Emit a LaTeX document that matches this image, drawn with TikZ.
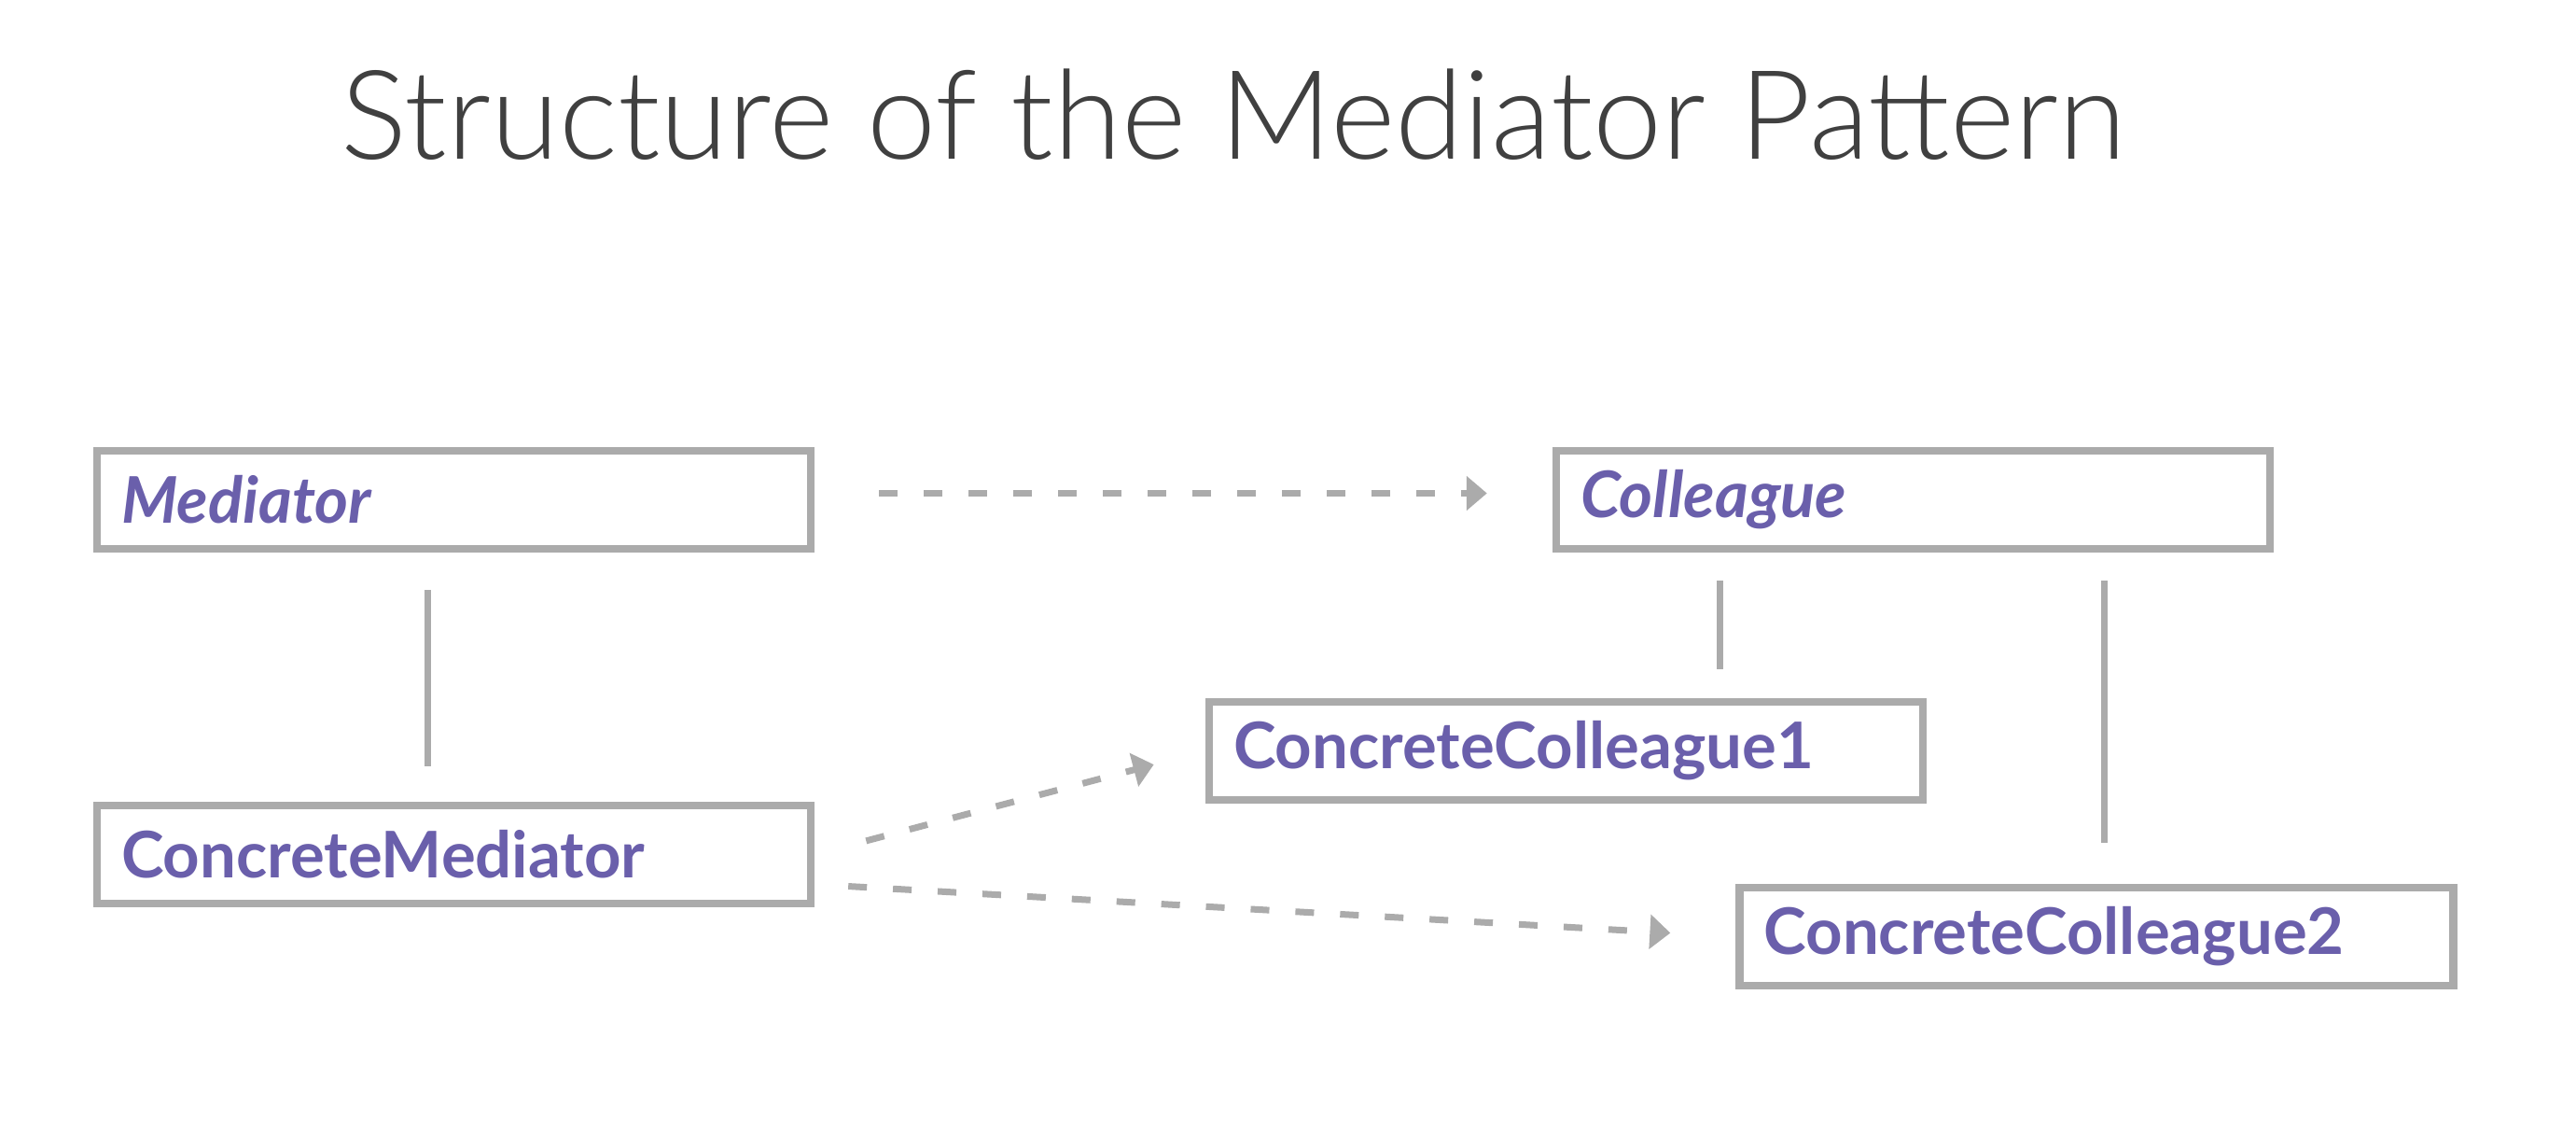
\documentclass[tikz,border=0pt]{standalone}
\usepackage{fontspec}
\setmainfont{Lato}
\newfontfamily\titlefont{Lato Light}
\usetikzlibrary{arrows.meta}
\definecolor{klasespalva}{HTML}{6A5FAB}
\definecolor{linijospalva}{HTML}{ABABAB}
\definecolor{antrastespalva}{HTML}{404040}
\tikzset{
  klase/.style={draw=linijospalva, line width=0.085cm,
    text width=7.13cm, inner xsep=0.26cm, minimum height=1.05cm,
    align=left, text=klasespalva,
    font=\fontsize{19.6}{24}\selectfont\bfseries},
  abstrakti/.style={klase, font=\fontsize{19.6}{24}\selectfont\bfseries\itshape},
  paveldejimas/.style={draw=linijospalva, line width=0.07cm},
  priklausomybe/.style={draw=linijospalva, line width=0.07cm,
    dash pattern=on 0.2cm off 0.28cm,
    -{Triangle[length=0.22cm,width=0.36cm]}},
}
\begin{document}
\begin{tikzpicture}
  \useasboundingbox (0,0) rectangle (27.61,-12.01);
  % antraštė
  \node[font=\titlefont\fontsize{37.8}{42}\selectfont, text=antrastespalva,
        anchor=base] (antraste) at (13.22,-1.71) {Structure of the Mediator Pattern};
  % klasės
  \node[abstrakti] (mediator)  at (4.865,-5.355)  {Mediator};
  \node[abstrakti] (colleague) at (20.505,-5.355) {Colleague};
  \node[klase] (cmediator) at (4.865,-9.155)  {ConcreteMediator};
  \node[klase] (ccolleague1) at (16.785,-8.045) {ConcreteColleague1};
  \node[klase] (ccolleague2) at (22.47,-10.035) {ConcreteColleague2};
  % paveldėjimas
  \draw[paveldejimas, shorten <=0.4cm, shorten >=0.38cm]
        ([xshift=-0.285cm]mediator.south) -- ([xshift=-0.285cm]cmediator.north);
  \draw[paveldejimas, shorten <=0.3cm, shorten >=0.31cm]
        ([xshift=1.8cm]colleague.south west) -- ([xshift=1.8cm]colleague.south west |- ccolleague1.north);
  \draw[paveldejimas, shorten <=0.3cm, shorten >=0.44cm]
        ([xshift=5.92cm]colleague.south west) -- ([xshift=5.92cm]colleague.south west |- ccolleague2.north);
  % priklausomybės
  \draw[priklausomybe, shorten <=0.69cm, shorten >=0.7cm]
        ([yshift=0.07cm]mediator.east) -- ([yshift=0.07cm]colleague.west);
  \draw[priklausomybe, shorten <=0.57cm, shorten >=0.57cm]
        (cmediator.east) -- (ccolleague1.west);
  \draw[priklausomybe, shorten <=0.36cm, shorten >=0.7cm]
        ([yshift=-0.32cm]cmediator.east) -- (ccolleague2.west);
\end{tikzpicture}
\end{document}
